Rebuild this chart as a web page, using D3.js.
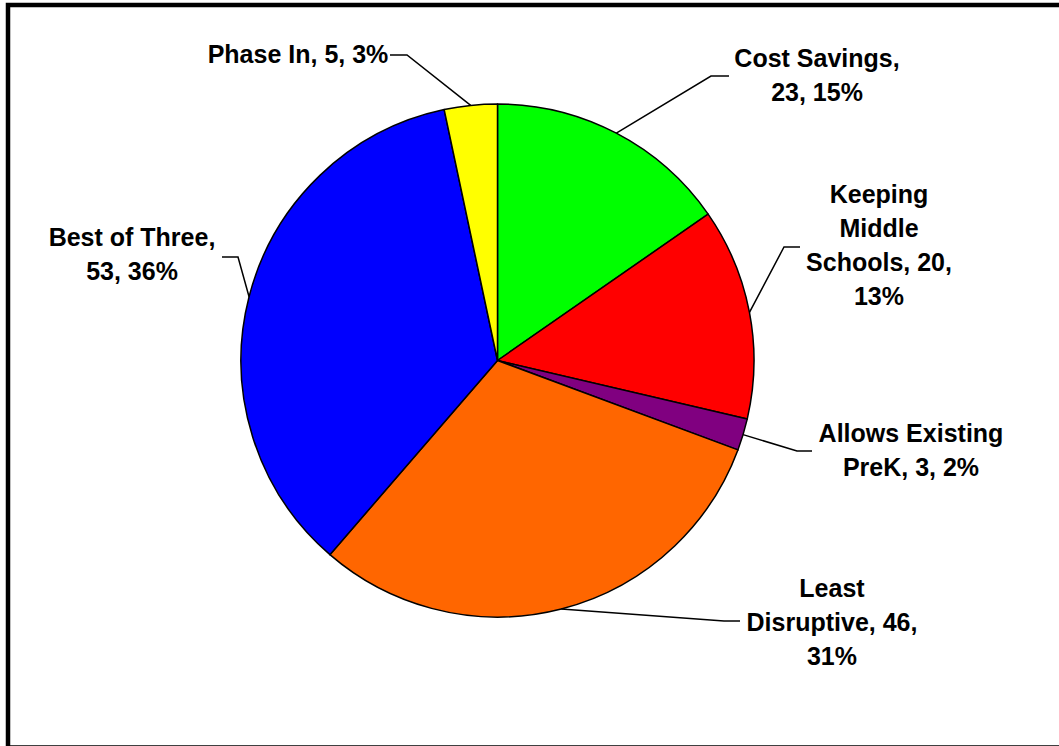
<!DOCTYPE html>
<html>
<head>
<meta charset="utf-8">
<script src="https://cdn.jsdelivr.net/npm/d3@7"></script>
<style>
  body { margin: 0; background: #fff; }
  svg { display: block; }
  .lbl { font-family: Arial, "Liberation Sans", sans-serif; font-weight: bold; font-size: 25px; fill: #000; }
</style>
</head>
<body>
<div id="chart"></div>
<script>
// data
var categories = ["Cost Savings", "Keeping Middle Schools", "Allows Existing PreK", "Least Disruptive", "Best of Three", "Phase In"];
var counts = [23, 20, 3, 46, 53, 5];
var percentLabels = [15, 13, 2, 31, 36, 3];
var colors = ["#00ff00", "#ff0000", "#800080", "#ff6600", "#0000ff", "#ffff00"];

//svg parameters//
var w = 1059;
var h = 746;
var cx = 497.5, cy = 360.5, r = 256.5;

//label layout: words per line, text centre x, first baseline, elbow and end of leader line//
var labelLayout = [
  {words: [2, 2],       x: 817, y: 67,  elbow: [711, 76],  end: [729, 76]},
  {words: [1, 1, 2, 1], x: 879, y: 203, elbow: [784, 247], end: [800, 247]},
  {words: [2, 3],       x: 911, y: 442, elbow: [797, 451], end: [812, 451]},
  {words: [1, 2, 1],    x: 832, y: 597, elbow: [724, 621], end: [740, 621]},
  {words: [3, 2],       x: 132, y: 246, elbow: [238, 257], end: [222, 257]},
  {words: [4],          x: 298, y: 63,  elbow: [407, 55],  end: [390, 55]}
];
var lineStep = 34;

var svg = d3.select("#chart")
  .append("svg")
  .attr("width", w)
  .attr("height", h);

//outer frame, runs off the right and bottom of the picture//
svg.append("rect")
  .attr("x", 8)
  .attr("y", 5)
  .attr("width", 1080)
  .attr("height", 742.5)
  .attr("fill", "white")
  .attr("stroke", "black")
  .attr("stroke-width", 4.5);

var slices = categories.map(function(c, i) {
  return {name: c, value: counts[i], pct: percentLabels[i], color: colors[i], layout: labelLayout[i]};
});

var pie = d3.pie()
  .sort(null)
  .value(function(d) { return d.value; });

var arc = d3.arc().innerRadius(0).outerRadius(r);
var edge = d3.arc().innerRadius(r).outerRadius(r);

var g = svg.append("g")
  .attr("transform", "translate(" + cx + "," + cy + ")");

g.selectAll("path")
  .data(pie(slices))
  .enter()
  .append("path")
  .attr("d", arc)
  .attr("fill", function(d) { return d.data.color; })
  .attr("stroke", "black")
  .attr("stroke-width", 1.5)
  .attr("stroke-linejoin", "round");

//leader lines from the middle of each slice's arc//
var line = d3.line();
svg.selectAll("path.leader")
  .data(pie(slices))
  .enter()
  .append("path")
  .attr("class", "leader")
  .attr("fill", "none")
  .attr("stroke", "black")
  .attr("stroke-width", 1.5)
  .attr("d", function(d) {
    var c = edge.centroid(d);
    var lay = d.data.layout;
    return line([[cx + c[0], cy + c[1]], lay.elbow, lay.end]);
  });

//labels, wrapped by word counts//
var labels = svg.selectAll("text.lbl")
  .data(slices)
  .enter()
  .append("text")
  .attr("class", "lbl")
  .attr("text-anchor", "middle");

labels.each(function(d) {
  var words = (d.name + ", " + d.value + ", " + d.pct + "%").split(" ");
  var t = d3.select(this);
  var k = 0;
  d.layout.words.forEach(function(n, i) {
    t.append("tspan")
      .attr("x", d.layout.x)
      .attr("y", d.layout.y + i * lineStep)
      .text(words.slice(k, k + n).join(" "));
    k += n;
  });
});
</script>
</body>
</html>
